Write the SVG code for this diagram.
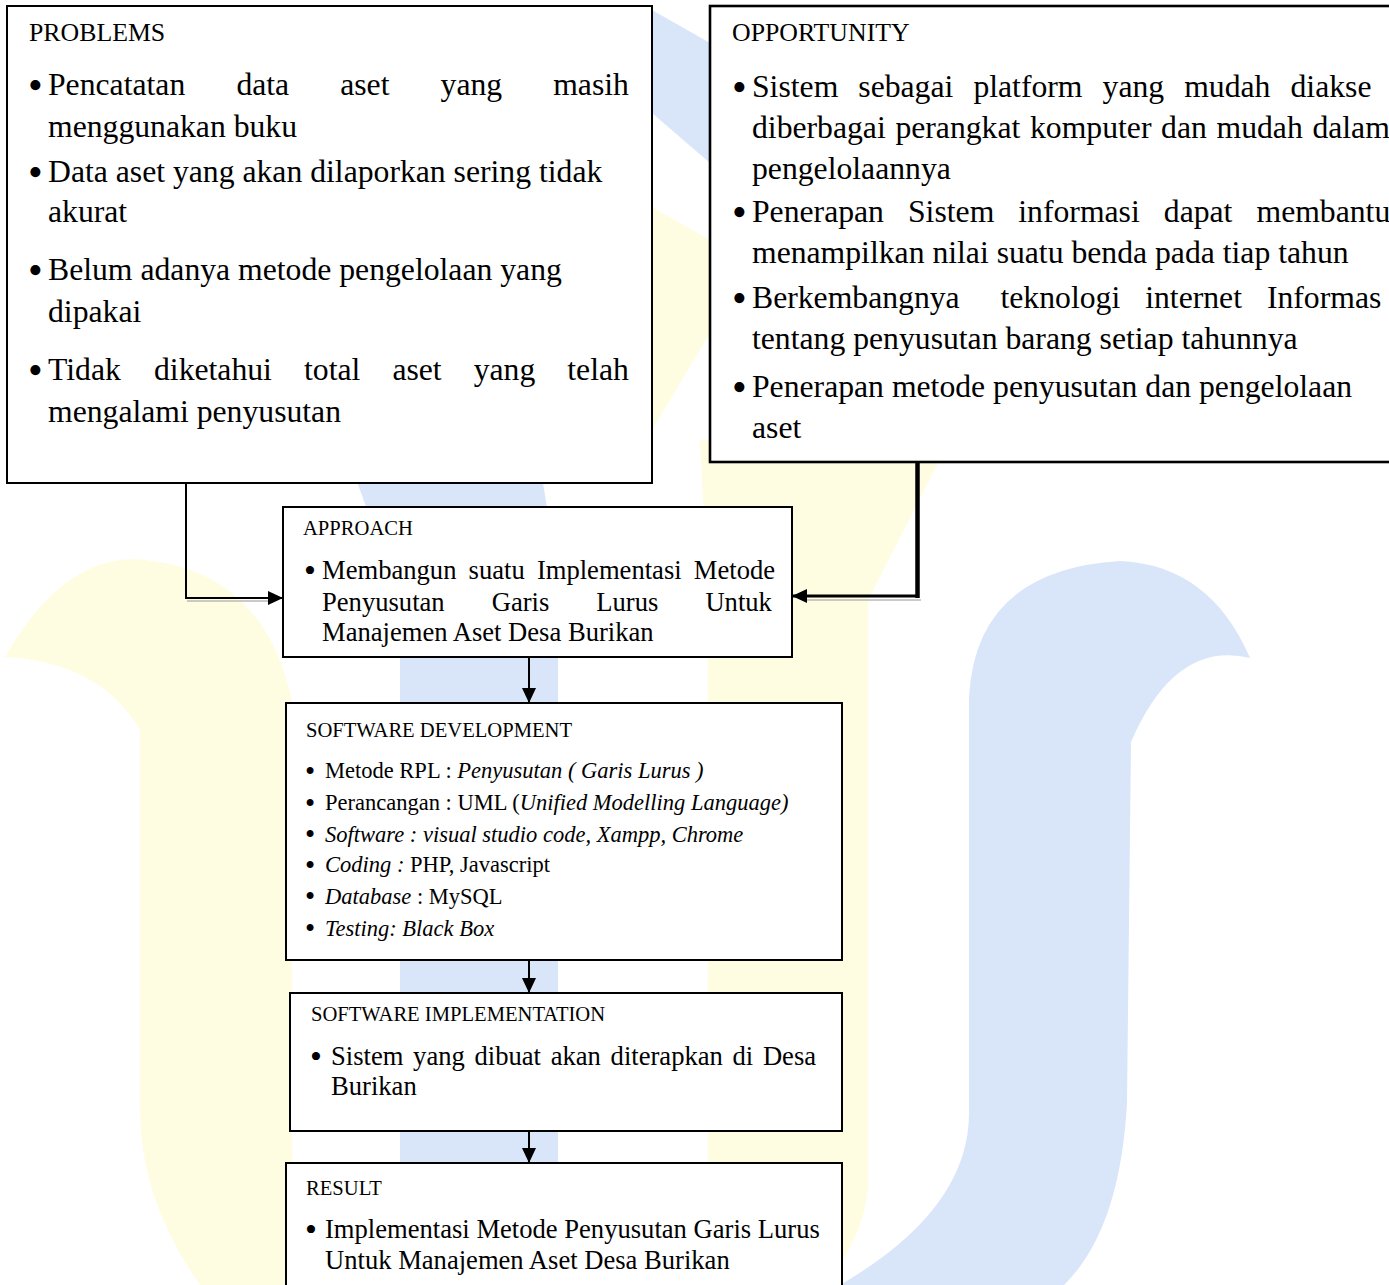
<svg xmlns="http://www.w3.org/2000/svg" width="1389" height="1285" viewBox="0 0 1389 1285">
<style>
text{font-family:"Liberation Serif","Times New Roman",serif;fill:#000}
.t1{font-size:25.8px}
.b1{font-size:31.7px}
.t2{font-size:20.6px}
.b2{font-size:26.6px}
.sd{font-size:22.5px}
.bu1{font-size:42px}
.bu2{font-size:34px}
.bu3{font-size:29px}
.i{font-style:italic}
.box{fill:#fff;stroke:#000;stroke-width:2}
.wy{fill:#FFFDE1}
.wb{fill:#D9E6FA}
.con{fill:none;stroke:#000;stroke-width:2}
.sh{fill:none;stroke:#b8b8b8;stroke-width:1.5}
</style>
<defs>
<marker id="ah" markerUnits="userSpaceOnUse" markerWidth="15" markerHeight="14" refX="15" refY="7" orient="auto">
<path d="M0,0 L15,7 L0,14 Z" fill="#000"/>
</marker>
</defs>
<rect width="1389" height="1285" fill="#fff"/>
<g id="watermark">
<path class="wy" d="M5,657 Q60,560 133,559 Q262,566 292,700 L292,1285 L200,1285 Q140,1200 140,1110 L140,730 Q100,662 5,657 Z"/>
<path class="wb" d="M340,440 L535,440 Q556,540 558,640 L558,1285 L400,1285 L400,660 Q392,560 340,440 Z"/>
<path class="wy" d="M700,440 L950,440 L868,600 L868,1190 Q860,1250 820,1285 L708,1285 L708,600 Z"/>
<path class="wb" d="M840,1285 Q969,1210 969,1113 L969,698 Q975,570 1120,561 Q1210,565 1250,658 Q1175,640 1131,742 L1127,1103 Q1120,1230 1064,1285 Z"/>
<path class="wb" d="M652,10 L710,43 L710,163 L652,113 Z"/>
<path class="wy" d="M652,207 L710,240 L710,333 L652,430 Z"/>
</g>
<g id="problems">
<rect class="box" x="7" y="6" width="645" height="477"/>
<text class="t1" x="29" y="41">PROBLEMS</text>
<text class="bu1" x="28" y="99">•</text>
<text class="b1" y="95"><tspan x="48">Pencatatan</tspan><tspan x="236.4">data</tspan><tspan x="340.2">aset</tspan><tspan x="440.6">yang</tspan><tspan x="553.2">masih</tspan></text>
<text class="b1" x="48" y="136.7">menggunakan buku</text>
<text class="bu1" x="28" y="185.7">•</text>
<text class="b1" x="48" y="181.7">Data aset yang akan dilaporkan sering tidak</text>
<text class="b1" x="48" y="221.7">akurat</text>
<text class="bu1" x="28" y="284">•</text>
<text class="b1" x="48" y="280">Belum adanya metode pengelolaan yang</text>
<text class="b1" x="48" y="321.7">dipakai</text>
<text class="bu1" x="28" y="384">•</text>
<text class="b1" y="380"><tspan x="48">Tidak</tspan><tspan x="154">diketahui</tspan><tspan x="304">total</tspan><tspan x="392.4">aset</tspan><tspan x="473.7">yang</tspan><tspan x="567.3">telah</tspan></text>
<text class="b1" x="48" y="421.7">mengalami penyusutan</text>
</g>
<g id="opportunity">
<rect class="box" x="710" y="6" width="720" height="456" style="stroke-width:2.6"/>
<text class="t1" x="732" y="41">OPPORTUNITY</text>
<text class="bu1" x="732" y="100.7">•</text>
<text class="b1" y="96.7"><tspan x="752">Sistem</tspan><tspan x="858.3">sebagai</tspan><tspan x="973.4">platform</tspan><tspan x="1102.6">yang</tspan><tspan x="1184.2">mudah</tspan><tspan x="1290.5">diakse</tspan></text>
<text class="b1" y="137.7"><tspan x="752">diberbagai</tspan><tspan x="895.4">perangkat</tspan><tspan x="1030">komputer</tspan><tspan x="1161.1">dan</tspan><tspan x="1216.5">mudah</tspan><tspan x="1312.4">dalam</tspan></text>
<text class="b1" x="752" y="178.5">pengelolaannya</text>
<text class="bu1" x="732" y="226">•</text>
<text class="b1" y="222"><tspan x="752">Penerapan</tspan><tspan x="908">Sistem</tspan><tspan x="1018.3">informasi</tspan><tspan x="1163.8">dapat</tspan><tspan x="1256.5">membantu</tspan></text>
<text class="b1" x="752" y="263.3">menampilkan nilai suatu benda pada tiap tahun</text>
<text class="bu1" x="732" y="312.3">•</text>
<text class="b1" y="308.3"><tspan x="752">Berkembangnya</tspan><tspan x="1000.5">teknologi</tspan><tspan x="1145.2">internet</tspan><tspan x="1266.9">Informas</tspan></text>
<text class="b1" x="752" y="349.3">tentang penyusutan barang setiap tahunnya</text>
<text class="bu1" x="732" y="400.7">•</text>
<text class="b1" x="752" y="396.7">Penerapan metode penyusutan dan pengelolaan</text>
<text class="b1" x="752" y="437.7">aset</text>
</g>
<g id="approach">
<rect class="box" x="283" y="507" width="509" height="150"/>
<text class="t2" x="303" y="535">APPROACH</text>
<text class="bu2" x="304" y="582">•</text>
<text class="b2" y="579"><tspan x="322">Membangun</tspan><tspan x="468.6">suatu</tspan><tspan x="536.9">Implementasi</tspan><tspan x="693.8">Metode</tspan></text>
<text class="b2" y="610.5"><tspan x="322">Penyusutan</tspan><tspan x="491.7">Garis</tspan><tspan x="596.3">Lurus</tspan><tspan x="705.4">Untuk</tspan></text>
<text class="b2" x="322" y="641">Manajemen Aset Desa Burikan</text>
</g>
<g id="software-development">
<rect class="box" x="286" y="703" width="556" height="257"/>
<text class="t2" x="306" y="736.5">SOFTWARE DEVELOPMENT</text>
<text class="bu3" x="305" y="780.5">•</text>
<text class="sd" x="325" y="778">Metode RPL : <tspan class="i">Penyusutan ( Garis Lurus )</tspan></text>
<text class="bu3" x="305" y="812.5">•</text>
<text class="sd" x="325" y="810">Perancangan : UML (<tspan class="i">Unified Modelling Language)</tspan></text>
<text class="bu3" x="305" y="844">•</text>
<text class="sd i" x="325" y="841.5">Software : visual studio code, Xampp, Chrome</text>
<text class="bu3" x="305" y="874.5">•</text>
<text class="sd" x="325" y="872"><tspan class="i">Coding :</tspan> PHP, Javascript</text>
<text class="bu3" x="305" y="906">•</text>
<text class="sd" x="325" y="903.5"><tspan class="i">Database</tspan> : MySQL</text>
<text class="bu3" x="305" y="938">•</text>
<text class="sd i" x="325" y="935.5">Testing: Black Box</text>
</g>
<g id="software-implementation">
<rect class="box" x="290" y="993" width="552" height="138"/>
<text class="t2" x="311" y="1020.5">SOFTWARE IMPLEMENTATION</text>
<text class="bu2" x="310" y="1068">•</text>
<text class="b2" y="1065"><tspan x="331">Sistem</tspan><tspan x="413.1">yang</tspan><tspan x="474.5">dibuat</tspan><tspan x="550.7">akan</tspan><tspan x="610.6">diterapkan</tspan><tspan x="732.4">di</tspan><tspan x="762.9">Desa</tspan></text>
<text class="b2" x="331" y="1095">Burikan</text>
</g>
<g id="result">
<rect class="box" x="286" y="1163" width="556" height="140"/>
<text class="t2" x="306" y="1195">RESULT</text>
<text class="bu2" x="305" y="1241">•</text>
<text class="b2" x="325" y="1238">Implementasi Metode Penyusutan Garis Lurus</text>
<text class="b2" x="325" y="1269">Untuk Manajemen Aset Desa Burikan</text>
</g>
<g id="connectors">
<line class="sh" x1="187" y1="601" x2="270" y2="601"/>
<polyline class="con" points="186,483 186,598 283,598" marker-end="url(#ah)"/>
<line class="sh" x1="806" y1="600" x2="921" y2="600"/>
<line x1="917.5" y1="462" x2="917.5" y2="598" stroke="#000" stroke-width="4.5"/>
<line x1="919" y1="596" x2="792" y2="596" stroke="#000" stroke-width="3" marker-end="url(#ah)"/>
<line class="con" x1="529" y1="657" x2="529" y2="703" marker-end="url(#ah)"/>
<line class="con" x1="529" y1="960" x2="529" y2="993" marker-end="url(#ah)"/>
<line class="con" x1="529" y1="1131" x2="529" y2="1163" marker-end="url(#ah)"/>
</g>
</svg>
